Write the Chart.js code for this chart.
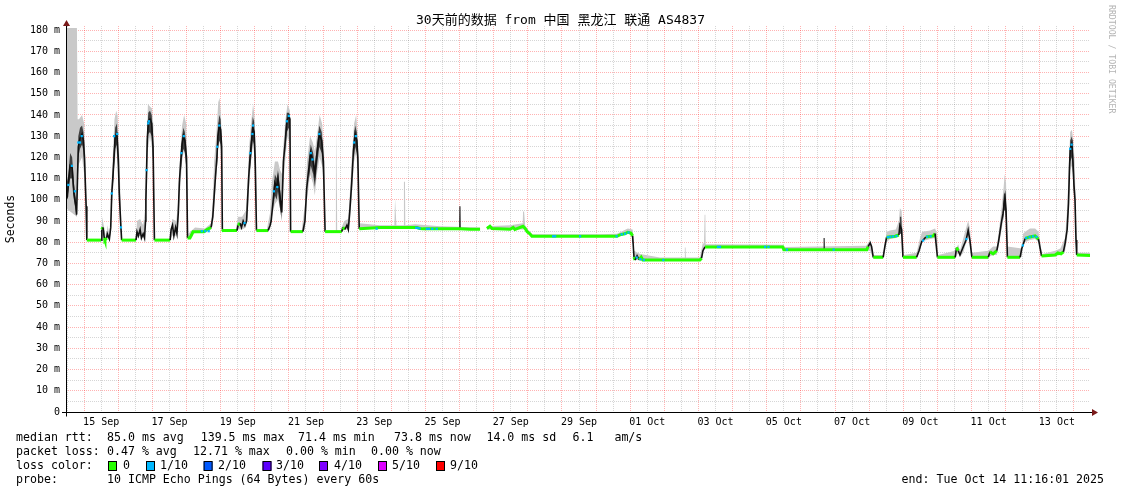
<!DOCTYPE html>
<html><head><meta charset="utf-8">
<script src="https://cdn.jsdelivr.net/npm/chart.js@4/dist/chart.umd.min.js"></script>
<style>html,body{margin:0;padding:0;background:#fff}canvas{display:block}</style>
</head><body>
<canvas id="c" width="1121" height="494"></canvas>
<script>
// x values: day of September 2025 (01 Oct = 31), 30-day window ending Tue Oct 14 11:16:01
const startDay = 14.4695, endDay = 44.4695;
const xLabelDays = [15.5,17.5,19.5,21.5,23.5,25.5,27.5,29.5,31.5,33.5,35.5,37.5,39.5,41.5,43.5];
const xLabels = ["15 Sep","17 Sep","19 Sep","21 Sep","23 Sep","25 Sep","27 Sep","29 Sep","01 Oct","03 Oct","05 Oct","07 Oct","09 Oct","11 Oct","13 Oct"];
const yTicks = [0,5,10,15,20,25,30,35,40,45,50,55,60,65,70,75,80,85,90,95,100,105,110,115,120,125,130,135,140,145,150,155,160,165,170,175,180];
const yMax = 181.9;

// median rtt (ms) [day, ms]; null = no data
const medianRows = [
[14.47,100],[14.51,101.5],[14.54,108],[14.59,116],[14.65,115],[14.70,103],[14.76,97],[14.78,93],[14.83,125],[14.88,129],[14.94,131],[14.98,128],[15.01,120],[15.06,97],[15.08,81],
[15.09,81],[15.50,81],[15.52,86],[15.55,87],[15.57,85],[15.59,82],[15.61,81],[15.66,82],[15.68,84],[15.74,81.5],[15.78,87],[15.81,103],[15.84,110],[15.88,121],[15.91,130],[15.96,131],[16.00,120],[16.03,103],[16.08,86.5],[16.10,81],
[16.52,81],[16.55,85],[16.59,83],[16.64,86],[16.68,82],[16.73,84],[16.77,82],[16.80,90],[16.81,100],[16.83,114],[16.85,128],[16.88,137],[16.93,138],[16.98,136],[17.02,125],[17.06,81],
[17.52,81],[17.55,86],[17.59,88],[17.63,83],[17.68,87],[17.72,84],[17.76,94],[17.79,108],[17.83,118],[17.87,126],[17.91,130],[17.95,128],[18.00,120],[18.03,82],
[18.10,82],[18.15,83.5],[18.19,85],[18.51,85],[18.60,86],[18.72,87],[18.77,92],[18.84,109],[18.89,120],[18.92,130],[18.96,135],[19.00,133],[19.03,125],[19.05,86],
[19.07,85.5],[19.48,85.5],[19.51,88],[19.57,89],[19.61,87],[19.66,90],[19.71,88],[19.76,90],[19.79,100],[19.82,110],[19.86,120],[19.91,128],[19.94,134],[19.98,132],[20.01,120],[20.05,85.5],
[20.39,85.5],[20.45,88],[20.48,90],[20.54,100],[20.59,108],[20.64,106],[20.68,110],[20.72,104],[20.79,94],[20.84,118],[20.89,127],[20.94,137],[21.00,139.5],[21.03,138],[21.05,85],
[21.41,85],[21.47,90],[21.52,105],[21.57,113],[21.64,122],[21.71,118],[21.76,112],[21.81,120],[21.89,131],[21.96,128],[22.01,118],[22.06,85],
[22.55,85],[22.58,87],[22.64,86],[22.70,88],[22.74,86],[22.79,96],[22.84,108],[22.89,123],[22.94,131],[22.99,128],[23.02,120],[23.06,86.3],
[23.67,86.9],[24.75,86.9],[24.84,86.5],[24.93,86.3],[25.43,86.3],[26.01,86.3],[26.30,86.1],[26.60,86.1],
null,
[26.80,86.5],[26.89,87.5],[26.95,86.5],[27.48,86.1],[27.57,87],[27.62,86],[27.86,87.5],[27.92,86.5],[27.98,85],[28.06,84],[28.12,82.8],
[30.61,82.8],[30.70,83.5],[30.84,84],[30.93,84.7],[31.02,84.3],[31.07,83],[31.11,73],[31.14,71.6],[31.20,73.6],[31.26,71.8],[31.32,73],[31.37,71.6],
[33.04,71.6],[33.09,72.5],[33.13,76],[33.19,77.8],[35.47,77.8],[35.50,76.5],[37.93,76.5],[37.97,78],[38.03,79.7],[38.07,78],[38.12,72.9],
[38.41,72.9],[38.46,78],[38.51,82.3],[38.76,82.8],[38.87,83.4],[38.90,88],[38.95,86],[38.99,72.9],
[39.39,72.9],[39.46,76],[39.54,80.3],[39.66,82.5],[39.88,83],[39.93,84.1],[40.00,72.9],
[40.52,72.9],[40.56,77.5],[40.61,76],[40.66,74],[40.76,78],[40.84,81],[40.90,85.6],[40.95,81],[41.01,72.9],
[41.49,72.9],[41.54,75.5],[41.63,74.5],[41.74,76],[41.79,80.3],[41.87,88.9],[41.92,93.6],[41.98,101],[42.01,95],[42.05,72.9],
[42.42,72.9],[42.47,77],[42.57,81.8],[42.71,82.5],[42.86,83],[42.96,81.5],[43.05,73.5],
[43.45,74],[43.53,75],[43.62,74.5],[43.69,75.5],[43.74,79.5],[43.80,86],[43.84,98.3],[43.87,115.6],[43.89,124],[43.94,126.6],[43.97,118],[44.00,107],[44.03,100],[44.06,81],[44.08,74],[44.47,73.8]
];

// outer smoke (spread of the 10 pings) [day, low, high]
const smokeRows = [
[14.47,96,181],[14.79,92,181],[14.81,110,138],[14.85,117,138],[14.94,120,140],[15.00,112,136],[15.04,95,118],[15.08,81,84],null,
[15.50,81,82],[15.53,82,92],[15.55,83,90],[15.60,81,86],[15.64,81,82],[15.69,82,88],[15.74,81,83],[15.78,84,90],[15.81,96,110],[15.85,105,124],[15.89,116,138],[15.94,124,142],[15.98,118,140],[16.02,100,125],[16.06,88,105],[16.10,81,84],null,
[16.52,81,82],[16.55,82,90],[16.64,83,91],[16.73,82,88],[16.78,84,95],[16.83,98,125],[16.87,124,145],[16.93,130,144],[16.99,124,143],[17.03,112,135],[17.06,81,84],null,
[17.52,81,83],[17.58,83,91],[17.70,83,90],[17.76,90,100],[17.81,104,120],[17.87,118,135],[17.93,124,140],[17.99,116,136],[18.03,95,112],[18.05,81.5,84],[18.25,84.5,87],[18.54,84.5,86.5],[18.72,86,89],[18.77,88,100],[18.81,96,118],[18.87,110,130],[18.93,124,146],[18.97,128,148],[19.01,118,140],[19.04,95,120],[19.06,84.5,87],null,
[19.45,85,86.5],[19.51,86,92],[19.63,86,92],[19.74,87,95],[19.79,92,108],[19.83,105,124],[19.89,118,136],[19.95,126,145],[19.99,120,140],[20.03,100,124],[20.07,85,87],null,
[20.36,85,86.5],[20.45,86,94],[20.50,92,108],[20.59,98,118],[20.68,100,118],[20.74,96,114],[20.80,92,112],[20.84,108,126],[20.90,120,138],[20.96,130,145],[21.03,126,142],[21.06,85,88],null,
[21.38,85,86.5],[21.47,86,98],[21.53,100,118],[21.62,112,130],[21.70,108,127],[21.76,102,123],[21.82,112,130],[21.90,120,140],[21.97,116,136],[22.03,105,124],[22.07,85,87],null,
[22.37,85,86],[22.38,85,136],[22.40,85,136],[22.42,85,86],null,
[22.53,85,86.5],[22.62,86,90],[22.74,86,91],[22.79,90,104],[22.85,104,122],[22.91,118,136],[22.97,122,140],[23.02,112,130],[23.06,86,89],[23.67,86.5,88],[24.09,86.5,88],[24.11,86.5,100.5],[24.13,86.5,100.5],[24.15,86.5,88],[24.36,86.5,88],[24.37,86.5,108.5],[24.40,86.5,108.5],[24.41,86.5,88],[24.70,86.5,88.5],[25.43,86,87.5],[26.60,86,87],null,
[26.80,86,87.5],[27.48,86,88],[27.85,86,89],[27.86,86,94.5],[27.89,86,94.5],[27.92,86,88],[27.98,84.5,86.5],[28.12,82.5,83.8],[30.11,82.5,83.8],[30.61,82.8,84],[30.93,84,86.5],[31.07,83,86],[31.11,72,76],[31.29,71.3,74.5],[31.87,71.5,72.8],[32.58,71.5,72.8],[32.60,71.5,77.5],[32.62,71.5,77.5],[32.63,71.5,72.8],[33.04,71.5,72.8],[33.13,75,80],[33.16,77.5,79],[33.18,77.5,93],[33.20,77.5,93],[33.21,77.5,79],[35.47,77.5,78.8],[35.53,76,77.8],[37.91,76,78.3],[38.03,76,81],[38.11,72.5,74],[38.41,72.5,74],[38.51,80,85],[38.61,81.5,85.5],[38.78,82,86],[38.87,83,90],[38.90,84,96],[38.95,84,95],[38.98,78,86],[39.01,72.5,74],[39.39,72.5,75],[39.49,76,82],[39.55,80.5,85],[39.79,81.5,85.5],[39.93,82,86.5],[39.99,78,84],[40.02,72.5,74],[40.52,72.5,76],[40.61,75,79],[40.66,73,76],[40.76,75,82],[40.87,82,88.5],[40.90,83,90],[40.95,80,87],[41.01,72.5,75],[41.49,73,76],[41.63,74,78],[41.74,74,78],[41.79,78,84],[41.87,85,95],[41.94,92,106],[41.97,96,112],[42.01,92,108],[42.05,73,78],[42.47,73,77],[42.51,78,84],[42.57,80,85],[42.71,81,86.5],[42.86,81.5,86.5],[42.96,80,85],[43.04,74,77],[43.07,73,74.5],[43.45,73.5,76],[43.60,74,77],[43.74,76,82],[43.80,82,96],[43.84,94,112],[43.89,114,132],[43.94,116,133],[43.98,108,128],[44.02,98,118],[44.05,80,98],[44.08,73.5,75],[44.47,73.5,75]
];

// dense inner smoke [day, low, high]
const coreRows = [
[14.47,97,106],[14.54,104,112],[14.59,110,122],[14.65,110,120],[14.70,100,108],[14.76,94,100],[14.78,92,96],[14.83,120,130],[14.88,124,134],[14.94,126,135],[14.98,123,132],[15.01,115,125],null,
[15.84,106,114],[15.88,116,126],[15.91,124,134],[15.96,126,136],[16.00,114,126],null,
[16.85,122,132],[16.88,131,141],[16.93,132,142],[16.98,130,140],[17.02,118,130],null,
[17.83,112,122],[17.87,120,130],[17.91,124,134],[17.95,122,132],[18.00,114,125],null,
[18.89,114,124],[18.92,124,134],[18.96,128,140],[19.00,126,138],[19.03,118,130],null,
[19.86,114,124],[19.91,122,133],[19.94,128,139],[19.98,126,137],[20.01,114,126],null,
[20.54,96,104],[20.59,102,112],[20.64,100,110],[20.68,104,114],[20.72,98,108],[20.79,90,98],null,
[20.89,122,131],[20.94,132,141],[21.00,134,141],[21.03,132,140],null,
[21.57,108,118],[21.64,116,126],[21.71,112,122],[21.76,106,116],[21.81,114,124],[21.89,125,135],[21.96,122,132],[22.01,112,122],null,
[22.89,118,127],[22.94,125,135],[22.99,122,132],[23.02,114,124],null,
[25.98,86,86.5],[25.99,86,97],[26.03,86,97],[26.04,86,86.5],null,
[36.65,76.5,77],[36.66,76.5,82],[36.70,76.5,82],[36.71,76.5,77],null,
[38.89,83,86],[38.90,84,92],[38.94,84,92],[38.96,83,86],null,
[41.92,90,98],[41.95,95,103],[41.99,95,103],[42.02,88,95],null,
[43.87,110,120],[43.89,118,128],[43.94,120,130],[43.97,113,123],[44.00,102,112]
];

// samples with 1/10 packet loss [day, ms]
const loss1Rows = [
[14.54,107],[14.64,116],[14.73,104],[14.83,127],[14.88,127],[14.93,130],[15.81,103],[15.88,130],[15.97,131],[16.08,87],
[16.83,114],[16.88,136],[16.90,137],[17.85,122],[17.92,130],[18.45,85.2],[18.55,85.2],[18.65,85.2],[18.90,125],[18.96,135],
[19.70,89],[19.87,122],[19.93,131],[19.95,135],[20.56,104],[20.66,106],[20.94,137],[21.00,139.5],[21.64,122],[21.69,119],[21.89,131],
[22.91,127],[22.96,130],[23.57,86.4],[24.73,86.8],[24.78,86.7],[24.83,86.5],[25.04,86.3],[25.10,86.3],[25.20,86.3],[25.33,86.3],
[28.74,82.8],[28.80,82.8],[29.53,82.8],[30.60,82.8],[30.75,83.7],[30.85,84],[30.95,84.6],[31.19,72.8],[31.30,72],[31.40,71.6],[31.97,71.6],
[33.57,77.8],[33.63,77.8],[34.95,77.8],[35.05,77.8],[35.59,76.5],[36.96,76.5],[38.55,82.4],[38.62,82.6],[38.70,82.7],[38.80,82.9],
[39.58,80.8],[39.70,82.6],[39.80,82.8],[40.85,81.5],[42.50,78.5],[42.60,82],[42.70,82.5],[42.80,82.8],[42.90,82.5],[43.89,124],[43.93,126]
];

const titleText = "30天前的数据 from 中国 黑龙江 联通 AS4837";
const yTitle = "Seconds";
const sideText = "RRDTOOL / TOBI OETIKER";
const rttLegend = [["median rtt:",16],["85.0 ms avg",107],["139.5 ms max",200.7],["71.4 ms min",298],["73.8 ms now",394],["14.0 ms sd",486.4],["6.1",572.5],["am/s",614.4]];
const lossLegend = [["packet loss:",16],["0.47 % avg",107],["12.71 % max",193],["0.00 % min",286],["0.00 % now",371]];
const lossColors = [["0","#26ff00",108,123],["1/10","#00b8ff",146,160],["2/10","#0059ff",203.6,218],["3/10","#5e00ff",262.5,276],["4/10","#7e00ff",319,334],["5/10","#dd00ff",378,392],["9/10","#ff0000",436,450]];
const probeText = "10 ICMP Echo Pings (64 Bytes) every 60s";
const endText = "end: Tue Oct 14 11:16:01 2025";

// ---- build datasets ----
function seriesXY(rows, col) {
  const out = []; let lastX = startDay;
  rows.forEach(r => {
    if (r === null) out.push({x: lastX, y: null});
    else { lastX = r[0]; out.push({x: r[0], y: r[col]}); }
  });
  return out;
}
const MONO = "'DejaVu Sans Mono', 'Noto Sans CJK SC', monospace";
const GREEN = '#26ff00';
function flat(c) {
  const a = c.p0.parsed.y, b = c.p1.parsed.y;
  return Math.abs(a - b) <= 1.6 && Math.max(a, b) < 100;
}

const textPlugin = {
  id: 'rrdText',
  beforeDraw(chart) {
    const ctx = chart.ctx; ctx.save(); ctx.fillStyle = '#fff'; ctx.fillRect(0, 0, chart.width, chart.height); ctx.restore();
  },
  afterDraw(chart) {
    const ctx = chart.ctx, a = chart.chartArea;
    const ys = chart.scales.y;
    ctx.save();
    ctx.strokeStyle = '#000'; ctx.lineWidth = 1;
    const y0 = Math.round(ys.getPixelForValue(0)) + 0.5;
    const xL = Math.round(a.left) + 0.5;
    ctx.beginPath(); ctx.moveTo(a.left - 4, y0); ctx.lineTo(a.right + 2, y0); ctx.stroke();
    ctx.beginPath(); ctx.moveTo(xL, y0 + 4); ctx.lineTo(xL, a.top - 1); ctx.stroke();
    ctx.fillStyle = '#7a1a1a';
    ctx.beginPath(); ctx.moveTo(a.right + 2, y0 - 3.5); ctx.lineTo(a.right + 8, y0); ctx.lineTo(a.right + 2, y0 + 3.5); ctx.closePath(); ctx.fill();
    ctx.beginPath(); ctx.moveTo(xL - 3.5, a.top); ctx.lineTo(xL, a.top - 6); ctx.lineTo(xL + 3.5, a.top); ctx.closePath(); ctx.fill();
    ctx.fillStyle = '#000'; ctx.textBaseline = 'middle';
    ctx.font = "13px " + MONO; ctx.textAlign = 'center';
    ctx.fillText(titleText, 560.5, 21);
    ctx.save(); ctx.translate(11, 219); ctx.rotate(-Math.PI / 2);
    ctx.font = "11.5px " + MONO; ctx.fillText(yTitle, 0, 0); ctx.restore();
    ctx.save(); ctx.translate(1111, 5); ctx.rotate(Math.PI / 2);
    ctx.font = "8.2px " + MONO; ctx.fillStyle = '#b4b4b4'; ctx.textAlign = 'left';
    ctx.fillText(sideText, 0, 0); ctx.restore();
    ctx.textAlign = 'left'; ctx.font = "11.6px " + MONO; ctx.fillStyle = '#000';
    rttLegend.forEach(([t, x]) => ctx.fillText(t, x, 438));
    lossLegend.forEach(([t, x]) => ctx.fillText(t, x, 452));
    ctx.fillText("loss color:", 16, 466);
    lossColors.forEach(([t, col, bx, tx]) => {
      ctx.fillStyle = col; ctx.fillRect(bx, 461.5, 9, 9);
      ctx.strokeStyle = '#000'; ctx.lineWidth = 1; ctx.strokeRect(bx + 0.5, 461.5, 8, 9);
      ctx.fillStyle = '#000'; ctx.fillText(t, tx, 466);
    });
    ctx.fillText("probe:", 16, 480);
    ctx.fillText(probeText, 107, 480);
    ctx.textAlign = 'right'; ctx.fillText(endText, 1104, 480);
    ctx.restore();
  }
};

const allXTicks = [];
for (let i = 0; i < 60; i++) allXTicks.push(14.5 + i * 0.5);

new Chart(document.getElementById('c'), {
  type: 'line',
  data: {
    datasets: [
      { label: 'loss 1/10', data: seriesXY(loss1Rows, 1), showLine: false, pointStyle: 'rect', pointRadius: 1.6, pointBackgroundColor: '#00b8ff', pointBorderWidth: 0, order: 0 },
      { label: 'median', data: seriesXY(medianRows, 1), borderColor: GREEN, borderWidth: 3, pointRadius: 0, fill: false, spanGaps: false, order: 1,
        segment: { borderColor: c => flat(c) ? GREEN : '#111', borderWidth: c => flat(c) ? 3 : 1.6 } },
      { label: 'coreHi', data: seriesXY(coreRows, 2), borderWidth: 0, pointRadius: 0, fill: '+1', backgroundColor: 'rgba(40,40,40,0.85)', order: 3 },
      { label: 'coreLo', data: seriesXY(coreRows, 1), borderWidth: 0, pointRadius: 0, fill: false, order: 4 },
      { label: 'smokeHi', data: seriesXY(smokeRows, 2), borderWidth: 0, pointRadius: 0, fill: '+1', backgroundColor: '#c9c9c9', order: 5 },
      { label: 'smokeLo', data: seriesXY(smokeRows, 1), borderWidth: 0, pointRadius: 0, fill: false, order: 6 }
    ]
  },
  options: {
    responsive: false, animation: false, events: [],
    layout: { padding: { left: 0, right: 31, top: 26, bottom: 52 } },
    plugins: { legend: { display: false }, tooltip: { enabled: false }, filler: { propagate: false } },
    scales: {
      x: {
        type: 'linear', min: startDay, max: endDay,
        afterBuildTicks: s => { s.ticks = allXTicks.map(v => ({ value: v })); },
        afterFit: s => { s.height = 30; },
        ticks: { autoSkip: false, maxRotation: 0, minRotation: 0, padding: 4, color: '#000',
          font: { family: MONO, size: 10 },
          callback: v => { const i = xLabelDays.indexOf(v); return i >= 0 ? xLabels[i] : ''; } },
        grid: { drawTicks: false, lineWidth: 1,
          color: c => Number.isInteger(c.tick.value) ? 'rgba(255,0,0,0.3)' : 'rgba(0,0,0,0.16)' },
        border: { display: false, dash: [1, 1] }
      },
      y: {
        type: 'linear', min: 0, max: yMax,
        afterBuildTicks: s => { s.ticks = yTicks.map(v => ({ value: v })); },
        afterFit: s => { s.width = 66; },
        ticks: { autoSkip: false, padding: 6, color: '#000', font: { family: MONO, size: 10 },
          callback: v => v % 10 === 0 ? (v === 0 ? '0' : v + ' m') : '' },
        grid: { drawTicks: false, lineWidth: 1,
          color: c => c.tick.value % 10 === 0 ? 'rgba(255,0,0,0.3)' : 'rgba(0,0,0,0.16)' },
        border: { display: false, dash: [1, 1] }
      }
    }
  },
  plugins: [textPlugin]
});
</script>
</body></html>
